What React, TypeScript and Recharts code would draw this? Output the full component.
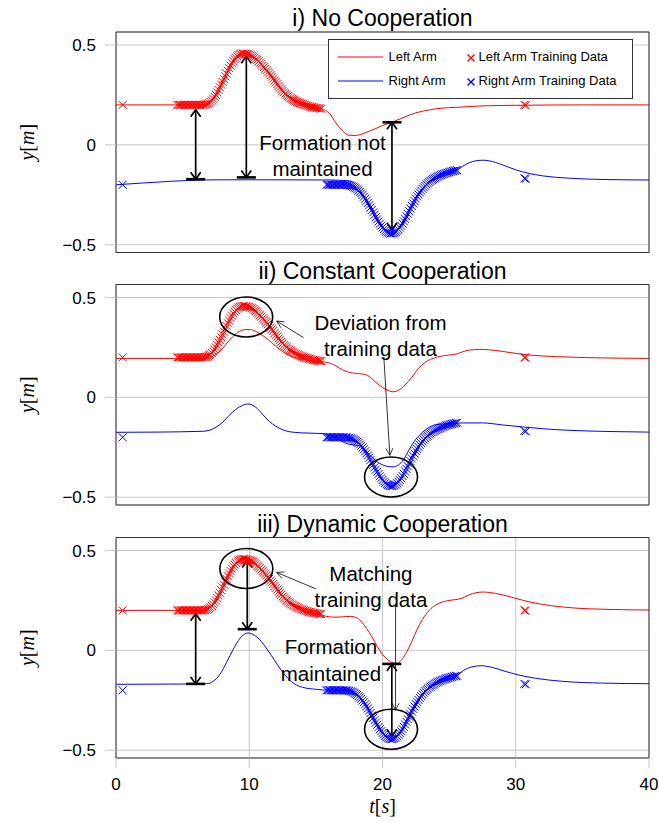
import React from "react";
import {
  ComposedChart,
  Line,
  Scatter,
  XAxis,
  YAxis,
  CartesianGrid,
  ReferenceLine,
  ReferenceDot,
  Legend,
} from "recharts";

const SANS = '"Liberation Sans", Arial, Helvetica, sans-serif';
const MATH = '"Liberation Serif", "DejaVu Serif", serif';
const RED = "#ff0000";
const BLUE = "#0000ff";
const GRID = "#c9c9c9";
const FRAME = "#333333";

const W = 659;
const H = 823;
const BOX_RIGHT = 649;
const BOX_H = 220.5;
const BOX_TOPS = [32, 284.5, 537.5];

const X_TICKS = [0, 10, 20, 30, 40];
const Y_TICKS = [-0.5, 0, 0.5];
const Y_DOMAIN: [number, number] = [-0.539, 0.565];
const TITLES = ["i) No Cooperation", "ii) Constant Cooperation", "iii) Dynamic Cooperation"];

type Pt = [number, number];

// demonstrations, identical in every panel
const leftTrain: Pt[] = [
  [4.6, 0.2], [4.7, 0.2], [4.8, 0.2], [4.9, 0.2], [5.0, 0.2], [5.1, 0.2], [5.2, 0.2], [5.3, 0.2],
  [5.4, 0.2], [5.5, 0.2], [5.6, 0.2], [5.7, 0.2], [5.8, 0.2], [5.9, 0.2], [6.0, 0.2], [6.1, 0.2],
  [6.2, 0.2], [6.3, 0.2], [6.4, 0.2], [6.5, 0.2], [6.6, 0.201], [6.7, 0.202], [6.8, 0.203],
  [6.9, 0.206], [7.0, 0.21], [7.1, 0.215], [7.2, 0.222], [7.3, 0.23], [7.4, 0.24], [7.5, 0.25],
  [7.6, 0.262], [7.7, 0.275], [7.8, 0.288], [7.9, 0.301], [8.0, 0.315], [8.1, 0.329], [8.2, 0.343],
  [8.3, 0.357], [8.4, 0.371], [8.5, 0.384], [8.6, 0.397], [8.7, 0.409], [8.8, 0.42], [8.9, 0.429],
  [9.0, 0.437], [9.1, 0.444], [9.2, 0.449], [9.3, 0.453], [9.4, 0.455], [9.5, 0.457], [9.6, 0.457],
  [9.7, 0.456], [9.8, 0.455], [9.9, 0.454], [10.0, 0.452], [10.1, 0.449], [10.2, 0.446],
  [10.3, 0.442], [10.4, 0.437], [10.5, 0.431], [10.6, 0.425], [10.7, 0.418], [10.8, 0.411],
  [10.9, 0.404], [11.0, 0.396], [11.1, 0.389], [11.2, 0.381], [11.3, 0.374], [11.4, 0.366],
  [11.5, 0.358], [11.6, 0.349], [11.7, 0.341], [11.8, 0.332], [11.9, 0.322], [12.0, 0.313],
  [12.1, 0.304], [12.2, 0.295], [12.3, 0.286], [12.4, 0.278], [12.5, 0.27], [12.6, 0.263],
  [12.7, 0.256], [12.8, 0.25], [12.9, 0.244], [13.0, 0.239], [13.1, 0.234], [13.2, 0.23],
  [13.3, 0.226], [13.4, 0.222], [13.5, 0.218], [13.6, 0.215], [13.7, 0.212], [13.8, 0.209],
  [13.9, 0.206], [14.0, 0.204], [14.1, 0.201], [14.2, 0.199], [14.3, 0.197], [14.4, 0.195],
  [14.5, 0.193], [14.6, 0.191], [14.7, 0.189], [14.8, 0.188], [14.9, 0.186], [15.0, 0.185],
  [15.1, 0.184], [15.2, 0.183], [15.3, 0.182], [15.4, 0.181],
];
const rightTrain: Pt[] = [
  [15.8, -0.2], [15.9, -0.2], [16.0, -0.2], [16.1, -0.2], [16.2, -0.2], [16.3, -0.2], [16.4, -0.2],
  [16.5, -0.2], [16.6, -0.2], [16.7, -0.2], [16.8, -0.2], [16.9, -0.2], [17.0, -0.2], [17.1, -0.2],
  [17.2, -0.201], [17.3, -0.201], [17.4, -0.202], [17.5, -0.203], [17.6, -0.205], [17.7, -0.207],
  [17.8, -0.21], [17.9, -0.214], [18.0, -0.218], [18.1, -0.223], [18.2, -0.229], [18.3, -0.236],
  [18.4, -0.243], [18.5, -0.251], [18.6, -0.26], [18.7, -0.27], [18.8, -0.28], [18.9, -0.291],
  [19.0, -0.302], [19.1, -0.314], [19.2, -0.326], [19.3, -0.338], [19.4, -0.35], [19.5, -0.362],
  [19.6, -0.373], [19.7, -0.384], [19.8, -0.395], [19.9, -0.405], [20.0, -0.414], [20.1, -0.422],
  [20.2, -0.429], [20.3, -0.435], [20.4, -0.439], [20.5, -0.442], [20.6, -0.444], [20.7, -0.444],
  [20.8, -0.443], [20.9, -0.44], [21.0, -0.436], [21.1, -0.43], [21.2, -0.423], [21.3, -0.414],
  [21.4, -0.405], [21.5, -0.394], [21.6, -0.383], [21.7, -0.371], [21.8, -0.358], [21.9, -0.345],
  [22.0, -0.332], [22.1, -0.319], [22.2, -0.306], [22.3, -0.293], [22.4, -0.281], [22.5, -0.269],
  [22.6, -0.258], [22.7, -0.248], [22.8, -0.238], [22.9, -0.229], [23.0, -0.22], [23.1, -0.212],
  [23.2, -0.205], [23.3, -0.198], [23.4, -0.192], [23.5, -0.186], [23.6, -0.181], [23.7, -0.176],
  [23.8, -0.172], [23.9, -0.168], [24.0, -0.164], [24.1, -0.16], [24.2, -0.157], [24.3, -0.154],
  [24.4, -0.151], [24.5, -0.148], [24.6, -0.146], [24.7, -0.143], [24.8, -0.141], [24.9, -0.139],
  [25.0, -0.137], [25.1, -0.135], [25.2, -0.133], [25.3, -0.131], [25.4, -0.13], [25.5, -0.128],
  [25.6, -0.127],
];
const leftSingles: Pt[] = [[0.5, 0.2], [30.65, 0.2], [30.75, 0.199]];
const rightSingles: Pt[] = [[0.5, -0.2], [30.65, -0.168], [30.75, -0.17]];

// i) no cooperation
const leftNoCoop: Pt[] = [
  [0, 0.2], [6.5, 0.2], [7.0, 0.21], [7.5, 0.25], [8.0, 0.315], [8.5, 0.385], [9.0, 0.437],
  [9.6, 0.457], [10.2, 0.446], [11.0, 0.396], [12.0, 0.313], [13.0, 0.239], [14.0, 0.204],
  [15.0, 0.185], [15.5, 0.178], [16.0, 0.16], [16.5, 0.11], [17.0, 0.07], [17.5, 0.048],
  [18.0, 0.047], [18.5, 0.055], [19.0, 0.068], [19.5, 0.082], [20.0, 0.097], [20.7, 0.113],
  [21.5, 0.135], [22.5, 0.16], [23.5, 0.175], [24.5, 0.184], [25.6, 0.188], [27.5, 0.195],
  [30.0, 0.198], [35.0, 0.2], [40.0, 0.2],
];
const rightNoCoop: Pt[] = [
  [0, -0.2], [2, -0.191], [4, -0.183], [6, -0.177], [8, -0.175], [12, -0.175], [16, -0.176],
  [17.5, -0.18], [18.0, -0.2], [18.6, -0.258], [19.4, -0.35], [20.2, -0.429], [20.7, -0.444],
  [21.4, -0.405], [22.2, -0.306], [23.0, -0.22], [24.0, -0.164], [25.0, -0.137], [25.6, -0.127],
  [26.0, -0.108], [26.5, -0.09], [27.0, -0.08], [27.5, -0.077], [28.0, -0.08], [29.0, -0.1],
  [30.0, -0.125], [31.0, -0.143], [32.0, -0.155], [34.0, -0.167], [37.0, -0.174], [40.0, -0.176],
];

// ii) constant cooperation
const leftConst: Pt[] = [
  [0, 0.195], [6.5, 0.195], [7.0, 0.2], [7.5, 0.215], [8.0, 0.245], [8.5, 0.285], [9.0, 0.318],
  [9.5, 0.337], [10.0, 0.34], [10.5, 0.33], [11.0, 0.31], [11.5, 0.285], [12.0, 0.255],
  [12.5, 0.23], [13.0, 0.21], [13.5, 0.198], [14.0, 0.19], [15.0, 0.182], [16.0, 0.172],
  [16.5, 0.158], [17.0, 0.138], [17.5, 0.125], [18.0, 0.12], [18.5, 0.117], [19.0, 0.105],
  [19.5, 0.075], [20.0, 0.05], [20.5, 0.032], [20.8, 0.028], [21.2, 0.035], [21.7, 0.062],
  [22.2, 0.1], [22.7, 0.145], [23.2, 0.175], [24.0, 0.2], [25.0, 0.212], [25.6, 0.218],
  [26.0, 0.228], [26.5, 0.236], [27.3, 0.24], [28.0, 0.238], [29.0, 0.23], [30.0, 0.22],
  [31.0, 0.212], [33.0, 0.204], [36.0, 0.198], [40.0, 0.195],
];
const rightConst: Pt[] = [
  [0, -0.175], [3, -0.174], [6.5, -0.17], [7.0, -0.165], [7.5, -0.15], [8.0, -0.125], [8.5, -0.09],
  [9.0, -0.06], [9.5, -0.04], [9.9, -0.033], [10.5, -0.05], [11.0, -0.085], [11.5, -0.12],
  [12.0, -0.145], [12.5, -0.162], [13.0, -0.172], [14.0, -0.178], [15.0, -0.18], [16.0, -0.185],
  [16.5, -0.2], [17.0, -0.222], [17.5, -0.235], [18.0, -0.24], [18.5, -0.25], [19.0, -0.285],
  [19.5, -0.318], [20.0, -0.338], [20.5, -0.347], [20.8, -0.348], [21.2, -0.338], [21.6, -0.31],
  [22.0, -0.262], [22.5, -0.21], [23.0, -0.175], [23.5, -0.15], [24.0, -0.137], [25.0, -0.132],
  [26.0, -0.128], [27.5, -0.128], [29.0, -0.138], [30.5, -0.148], [32.0, -0.157], [34.0, -0.165],
  [37.0, -0.171], [40.0, -0.174],
];

// iii) dynamic cooperation
const leftDyn: Pt[] = [
  [0, 0.2], [6.5, 0.2], [7.0, 0.21], [7.5, 0.25], [8.0, 0.315], [8.5, 0.385], [9.0, 0.437],
  [9.6, 0.457], [10.2, 0.446], [11.0, 0.396], [12.0, 0.313], [13.0, 0.239], [14.0, 0.204],
  [15.0, 0.185], [15.5, 0.175], [16.0, 0.168], [16.5, 0.166], [17.0, 0.168], [17.6, 0.17],
  [18.0, 0.165], [18.4, 0.145], [18.8, 0.11], [19.2, 0.068], [19.6, 0.02], [20.0, -0.02],
  [20.4, -0.048], [20.8, -0.063], [21.1, -0.065], [21.4, -0.05], [21.8, -0.01], [22.2, 0.045],
  [22.6, 0.105], [23.0, 0.155], [23.5, 0.2], [24.0, 0.228], [24.5, 0.242], [25.0, 0.25],
  [25.6, 0.255], [26.0, 0.262], [26.5, 0.278], [27.0, 0.288], [27.5, 0.292], [28.0, 0.29],
  [29.0, 0.278], [30.0, 0.26], [31.0, 0.243], [32.0, 0.23], [34.0, 0.214], [37.0, 0.205],
  [40.0, 0.202],
];
const rightDyn: Pt[] = [
  [0, -0.17], [4, -0.169], [6.8, -0.167], [7.3, -0.155], [7.8, -0.12], [8.3, -0.06], [8.8, 0.005],
  [9.3, 0.06], [9.9, 0.087], [10.4, 0.075], [10.9, 0.045], [11.4, 0.0], [11.9, -0.05],
  [12.4, -0.1], [12.9, -0.14], [13.4, -0.168], [14.0, -0.185], [15.0, -0.195], [16.0, -0.2],
  [17.0, -0.2], [17.6, -0.205], [18.0, -0.218], [18.6, -0.26], [19.4, -0.35], [20.2, -0.429],
  [20.7, -0.444], [21.4, -0.405], [22.2, -0.306], [23.0, -0.22], [24.0, -0.164], [25.0, -0.137],
  [25.6, -0.127], [26.1, -0.1], [26.7, -0.083], [27.4, -0.077], [28.2, -0.085], [29.2, -0.105],
  [30.2, -0.123], [31.5, -0.14], [33.5, -0.155], [36.5, -0.164], [40.0, -0.167],
];

// annotations, in data coordinates
type Arrow = { from: Pt; to: Pt; thick: boolean; bar?: "start" | "end" };
type Note = { at: Pt; text: string };

const arrowsNoCoop: Arrow[] = [
  { from: [5.98, 0.176], to: [5.98, -0.172], thick: true, bar: "end" },
  { from: [9.78, 0.443], to: [9.78, -0.163], thick: true, bar: "end" },
  { from: [20.71, 0.113], to: [20.71, -0.425], thick: true, bar: "start" },
];
const arrowsConst: Arrow[] = [
  { from: [14.07, 0.299], to: [12.06, 0.382], thick: false },
  { from: [20.1, 0.202], to: [20.55, -0.29], thick: false },
];
const arrowsDyn: Arrow[] = [
  { from: [5.98, 0.183], to: [5.98, -0.168], thick: true, bar: "end" },
  { from: [9.85, 0.45], to: [9.85, 0.106], thick: true, bar: "end" },
  { from: [20.7, -0.068], to: [20.7, -0.43], thick: true, bar: "start" },
  { from: [15.0, 0.308], to: [12.06, 0.39], thick: false },
  { from: [20.98, 0.228], to: [20.98, -0.3], thick: false },
];

const ringsConst: Pt[] = [[9.77, 0.402], [20.64, -0.399]];
const ringsDyn: Pt[] = [[9.78, 0.41], [20.64, -0.395]];

const notesNoCoop: Note[] = [
  { at: [15.5, 0.013], text: "Formation not" },
  { at: [15.5, -0.116], text: "maintained" },
];
const notesConst: Note[] = [
  { at: [19.85, 0.377], text: "Deviation from" },
  { at: [19.85, 0.244], text: "training data" },
];
const notesDyn: Note[] = [
  { at: [19.13, 0.383], text: "Matching" },
  { at: [19.13, 0.253], text: "training data" },
  { at: [16.13, 0.019], text: "Formation" },
  { at: [16.13, -0.114], text: "maintained" },
];

const PANELS = [
  { left: leftNoCoop, right: rightNoCoop, arrows: arrowsNoCoop, rings: [] as Pt[], notes: notesNoCoop },
  { left: leftConst, right: rightConst, arrows: arrowsConst, rings: ringsConst, notes: notesConst },
  { left: leftDyn, right: rightDyn, arrows: arrowsDyn, rings: ringsDyn, notes: notesDyn },
];

const toRows = (pts: Pt[]) => pts.map(([t, y]) => ({ t, y }));

const cross = (color: string, half = 4) => (p: any) => (
  <path
    d={`M${p.cx - half},${p.cy - half}L${p.cx + half},${p.cy + half}M${p.cx - half},${p.cy + half}L${p.cx + half},${p.cy - half}`}
    stroke={color}
    strokeWidth={1}
    fill="none"
  />
);

const arrowShape = (a: Arrow) => (p: any) => {
  const { x1, y1, x2, y2 } = p;
  const len = Math.hypot(x2 - x1, y2 - y1) || 1;
  const ux = (x2 - x1) / len;
  const uy = (y2 - y1) / len;
  const nx = -uy;
  const ny = ux;
  const sw = a.thick ? 1.7 : 0.8;
  const L = 7;
  const hw = a.thick ? 5 : 3.5;
  const head = (tx: number, ty: number, dx: number, dy: number) =>
    `M${tx - dx * L + nx * hw},${ty - dy * L + ny * hw}L${tx},${ty}L${tx - dx * L - nx * hw},${ty - dy * L - ny * hw}`;
  let d = head(x2, y2, ux, uy);
  if (a.thick) d += head(x1, y1, -ux, -uy);
  const bar = a.bar === "start" ? [x1, y1] : a.bar === "end" ? [x2, y2] : null;
  return (
    <g>
      <line x1={x1} y1={y1} x2={x2} y2={y2} stroke="#000" strokeWidth={sw} />
      <path d={d} fill="none" stroke="#000" strokeWidth={sw} />
      {bar && (
        <line
          x1={bar[0] - nx * 9.5}
          y1={bar[1] - ny * 9.5}
          x2={bar[0] + nx * 9.5}
          y2={bar[1] + ny * 9.5}
          stroke="#000"
          strokeWidth={2.6}
        />
      )}
    </g>
  );
};

const ringShape = (p: any) => (
  <ellipse cx={p.cx} cy={p.cy} rx={26.5} ry={20} fill="none" stroke="#000" strokeWidth={1.6} />
);

const noteShape = (text: string) => (p: any) => (
  <text
    x={p.cx}
    y={p.cy}
    textAnchor="middle"
    dominantBaseline="central"
    fontFamily={SANS}
    fontSize={20.5}
    fill="#000"
  >
    {text}
  </text>
);

const yTickFmt = (v: number) => (v === 0 ? "0" : v < 0 ? `\u2212${Math.abs(v)}` : String(v));

const YLabel = (top: number) => (props: any) => {
  const vb = props.viewBox || { x: 10, y: top, width: 106, height: BOX_H };
  const cx = vb.x + 17;
  const cy = vb.y + vb.height / 2;
  return (
    <text
      x={cx}
      y={cy}
      transform={`rotate(-90 ${cx} ${cy})`}
      textAnchor="middle"
      dominantBaseline="central"
      fontFamily={MATH}
      fontSize={20}
      fill="#000"
    >
      <tspan fontStyle="italic">y</tspan>[<tspan fontStyle="italic">m</tspan>]
    </text>
  );
};

const TLabel = (props: any) => {
  const vb = props.viewBox || { x: 116, y: 758, width: 533, height: 48 };
  return (
    <text x={vb.x + vb.width / 2} y={vb.y + 55} textAnchor="middle" fontFamily={MATH} fontSize={20} fill="#000">
      <tspan fontStyle="italic">t</tspan>[<tspan fontStyle="italic">s</tspan>]
    </text>
  );
};

const LegendBox = () => {
  const row = (y: number, color: string, name: string) => (
    <>
      <svg style={{ position: "absolute", left: 9, top: y - 2 }} width={45} height={4}>
        <line x1={0} y1={2} x2={45} y2={2} stroke={color} strokeWidth={1} />
      </svg>
      <span style={{ position: "absolute", left: 60, top: y - 8 }}>{name}</span>
      <svg style={{ position: "absolute", left: 137, top: y - 4 }} width={10} height={10}>
        <path d="M1.5,1.5L8.5,8.5M1.5,8.5L8.5,1.5" stroke={color} strokeWidth={1.4} />
      </svg>
      <span style={{ position: "absolute", left: 150, top: y - 8 }}>{name} Training Data</span>
    </>
  );
  return (
    <div
      style={{
        position: "relative",
        width: 303,
        height: 58,
        border: `1px solid ${FRAME}`,
        background: "#fff",
        fontFamily: SANS,
        fontSize: 13,
        lineHeight: "15px",
        color: "#000",
      }}
    >
      {row(16.5, RED, "Left Arm")}
      {row(40.5, BLUE, "Right Arm")}
    </div>
  );
};

function Panel({ index }: { index: number }) {
  const cfg = PANELS[index];
  const top = BOX_TOPS[index];
  const last = index === PANELS.length - 1;
  const xAxisH = last ? 48 : 1;
  const margin = { top: top - 1, left: 10, right: W - BOX_RIGHT - 1, bottom: H - top - BOX_H - xAxisH };
  const tickFont = { fontSize: 17, fill: "#000", fontFamily: SANS };

  return (
    <div style={{ position: "absolute", left: 0, top: 0 }}>
      <ComposedChart width={W} height={H} margin={margin}>
        <CartesianGrid stroke={GRID} strokeWidth={1} />
        <XAxis
          type="number"
          dataKey="t"
          domain={[0, 40]}
          ticks={X_TICKS}
          interval={0}
          allowDataOverflow
          height={xAxisH}
          tick={last ? tickFont : false}
          tickSize={10}
          tickMargin={10}
          tickLine={{ stroke: GRID }}
          axisLine={{ stroke: FRAME }}
          label={last ? TLabel : undefined}
        />
        <XAxis
          xAxisId="top"
          orientation="top"
          type="number"
          domain={[0, 40]}
          ticks={X_TICKS}
          interval={0}
          height={1}
          tick={false}
          tickSize={6}
          tickLine={{ stroke: GRID }}
          axisLine={{ stroke: FRAME }}
          label={{
            value: TITLES[index],
            position: "top",
            offset: 5,
            fontSize: 23,
            fontFamily: SANS,
            fill: "#000",
          }}
        />
        <YAxis
          type="number"
          domain={Y_DOMAIN}
          ticks={Y_TICKS}
          interval={0}
          allowDataOverflow
          width={106}
          tick={tickFont}
          tickFormatter={yTickFmt}
          tickSize={11}
          tickMargin={9}
          tickLine={{ stroke: GRID }}
          axisLine={{ stroke: FRAME }}
          label={YLabel(top)}
        />
        <YAxis
          yAxisId="right"
          orientation="right"
          type="number"
          domain={Y_DOMAIN}
          width={1}
          tick={false}
          tickLine={false}
          axisLine={{ stroke: FRAME }}
        />

        <Line
          data={toRows(cfg.left)}
          dataKey="y"
          type="monotone"
          stroke={RED}
          strokeWidth={1}
          dot={false}
          activeDot={false}
          isAnimationActive={false}
        />
        <Line
          data={toRows(cfg.right)}
          dataKey="y"
          type="monotone"
          stroke={BLUE}
          strokeWidth={1}
          dot={false}
          activeDot={false}
          isAnimationActive={false}
        />
        <Scatter data={toRows(leftTrain)} dataKey="y" shape={cross(RED)} isAnimationActive={false} />
        <Scatter data={toRows(leftSingles)} dataKey="y" shape={cross(RED)} isAnimationActive={false} />
        <Scatter data={toRows(rightTrain)} dataKey="y" shape={cross(BLUE)} isAnimationActive={false} />
        <Scatter data={toRows(rightSingles)} dataKey="y" shape={cross(BLUE)} isAnimationActive={false} />

        {cfg.rings.map((r, i) => (
          <ReferenceDot key={`r${i}`} x={r[0]} y={r[1]} shape={ringShape} />
        ))}
        {cfg.arrows.map((a, i) => (
          <ReferenceLine
            key={`a${i}`}
            segment={[
              { x: a.from[0], y: a.from[1] },
              { x: a.to[0], y: a.to[1] },
            ]}
            shape={arrowShape(a)}
          />
        ))}
        {cfg.notes.map((n, i) => (
          <ReferenceDot key={`n${i}`} x={n.at[0]} y={n.at[1]} shape={noteShape(n.text)} />
        ))}

        {index === 0 && (
          <Legend
            layout="vertical"
            align="center"
            verticalAlign="middle"
            content={LegendBox}
            wrapperStyle={{ left: 327.5, top: 39.3, width: 305, height: 60, right: "auto", bottom: "auto" }}
          />
        )}
      </ComposedChart>
    </div>
  );
}

export default function App() {
  return (
    <div style={{ position: "absolute", left: 0, top: 0, width: W, height: H, background: "#fff" }}>
      {PANELS.map((_, i) => (
        <Panel key={i} index={i} />
      ))}
    </div>
  );
}
